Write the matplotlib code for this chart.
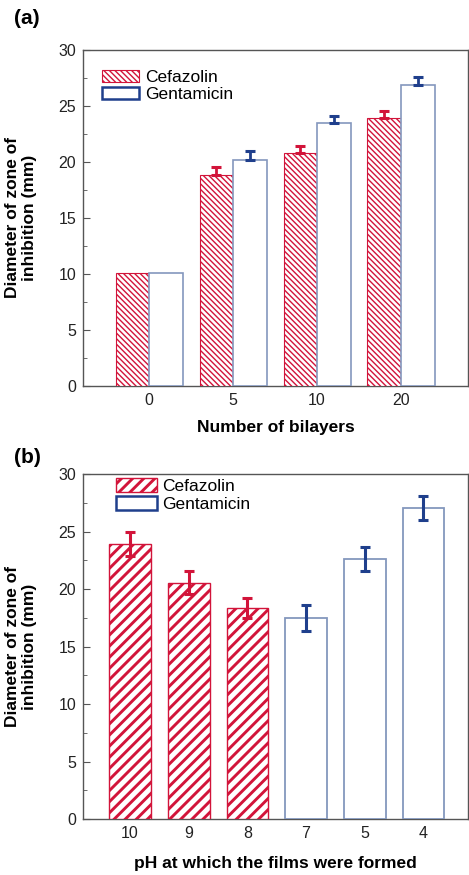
import matplotlib
matplotlib.use("Agg")
import matplotlib.pyplot as plt
import numpy as np
from matplotlib.patches import Patch
from matplotlib.ticker import MultipleLocator

plt.rcParams["font.family"] = ["Liberation Sans", "DejaVu Sans"]

# ---- data ----
bilayers = ["0", "5", "10", "20"]
cef_a = [10.1, 18.8, 20.8, 23.9]
cef_a_err = [0.0, 0.7, 0.6, 0.6]
gen_a = [10.1, 20.2, 23.5, 26.9]
gen_a_err = [0.0, 0.8, 0.6, 0.7]

ph_labels = ["10", "9", "8", "7", "5", "4"]
ph_values = [23.9, 20.55, 18.35, 17.5, 22.6, 27.1]
ph_err = [1.05, 1.0, 0.85, 1.1, 1.05, 1.05]
ph_drug = ["Cefazolin", "Cefazolin", "Cefazolin", "Gentamicin", "Gentamicin", "Gentamicin"]

RED = "#d2143a"
BLUE = "#1f3f8c"
BLUE_EDGE = "#8497bd"
SPINE = "#555555"

HATCH_A = "\\" * 6
HATCH_B = "///"
HLW_A = 1.0
HLW_B = 2.1


def style_axes(ax):
    for s in ax.spines.values():
        s.set_color(SPINE)
        s.set_linewidth(1.0)
    ax.set_ylim(0, 30)
    ax.yaxis.set_major_locator(MultipleLocator(5))
    ax.yaxis.set_minor_locator(MultipleLocator(2.5))
    ax.tick_params(axis="both", which="both", direction="in", colors=SPINE,
                   labelcolor="#222222", labelsize=11.5)
    ax.tick_params(axis="both", which="major", length=5, pad=5)
    ax.tick_params(axis="y", which="minor", length=3)
    ax.tick_params(axis="x", which="minor", bottom=False)
    ax.set_ylabel("Diameter of zone of\ninhibition (mm)", fontsize=12.5,
                  fontweight="bold", labelpad=15, linespacing=1.2)


def set_hatch_lw(patch, lw):
    if hasattr(patch, "set_hatch_linewidth"):
        patch.set_hatch_linewidth(lw)


fig = plt.figure(figsize=(4.69, 8.75), dpi=100)

# ---- panel (a) ----
ax1 = fig.add_axes([0.177, 0.559, 0.821, 0.384])
style_axes(ax1)
x = np.arange(len(bilayers))
w = 0.4
plt.rcParams["hatch.linewidth"] = HLW_A
bars_c = ax1.bar(x - w / 2, cef_a, w, color="white", edgecolor=RED,
                 hatch=HATCH_A, linewidth=0.8, zorder=3)
for b in bars_c:
    set_hatch_lw(b, HLW_A)
ax1.bar(x + w / 2, gen_a, w, color="white", edgecolor=BLUE_EDGE,
        linewidth=1.2, zorder=3)
m = np.array(cef_a_err) > 0
ax1.errorbar((x - w / 2)[m], np.array(cef_a)[m],
             yerr=[np.zeros(m.sum()), np.array(cef_a_err)[m]],
             fmt="none", ecolor=RED, elinewidth=2.0, capsize=3.5, capthick=2.2, zorder=4)
m = np.array(gen_a_err) > 0
ax1.errorbar((x + w / 2)[m], np.array(gen_a)[m],
             yerr=[np.zeros(m.sum()), np.array(gen_a_err)[m]],
             fmt="none", ecolor=BLUE, elinewidth=2.0, capsize=3.5, capthick=2.2, zorder=4)
ax1.set_xlim(-0.79, 3.8)
ax1.set_xticks(x)
ax1.set_xticklabels(bilayers)
ax1.set_xlabel("Number of bilayers", fontsize=12.5, fontweight="bold", labelpad=9)

h1 = Patch(facecolor="white", edgecolor=RED, hatch=HATCH_A, linewidth=0.8)
set_hatch_lw(h1, HLW_A)
h2 = Patch(facecolor="white", edgecolor=BLUE, linewidth=1.8)
ax1.legend([h1, h2], ["Cefazolin", "Gentamicin"], loc="upper left",
           bbox_to_anchor=(0.05, 0.94), frameon=False, fontsize=12.5,
           handlelength=2.1, handleheight=0.7, handletextpad=0.35,
           labelspacing=0.1, borderpad=0, borderaxespad=0)
fig.text(0.03, 0.99, "(a)", fontsize=15, fontweight="bold", va="top", ha="left")

# ---- panel (b) ----
ax2 = fig.add_axes([0.177, 0.064, 0.821, 0.394])
style_axes(ax2)
xb = np.arange(len(ph_labels))
wb = 0.71
plt.rcParams["hatch.linewidth"] = HLW_B
for xi, v, e, d in zip(xb, ph_values, ph_err, ph_drug):
    if d == "Cefazolin":
        bb = ax2.bar(xi, v, wb, color="white", edgecolor=RED, hatch=HATCH_B,
                     linewidth=1.0, zorder=3)
        for b in bb:
            set_hatch_lw(b, HLW_B)
        col = RED
    else:
        ax2.bar(xi, v, wb, color="white", edgecolor=BLUE_EDGE, linewidth=1.3, zorder=3)
        col = BLUE
    ax2.errorbar(xi, v, yerr=e, fmt="none", ecolor=col, elinewidth=2.2,
                 capsize=3.5, capthick=2.2, zorder=4)
ax2.set_xlim(-0.8, 5.76)
ax2.set_xticks(xb)
ax2.set_xticklabels(ph_labels)
ax2.set_xlabel("pH at which the films were formed", fontsize=12.5,
               fontweight="bold", labelpad=11)

g1 = Patch(facecolor="white", edgecolor=RED, hatch=HATCH_B, linewidth=1.0)
set_hatch_lw(g1, HLW_B)
g2 = Patch(facecolor="white", edgecolor=BLUE, linewidth=1.8)
ax2.legend([g1, g2], ["Cefazolin", "Gentamicin"], loc="upper left",
           bbox_to_anchor=(0.085, 0.99), frameon=False, fontsize=12.5,
           handlelength=2.4, handleheight=0.85, handletextpad=0.3,
           labelspacing=0.15, borderpad=0, borderaxespad=0)
fig.text(0.03, 0.488, "(b)", fontsize=15, fontweight="bold", va="top", ha="left")

fig.savefig("out.png", dpi=100)
